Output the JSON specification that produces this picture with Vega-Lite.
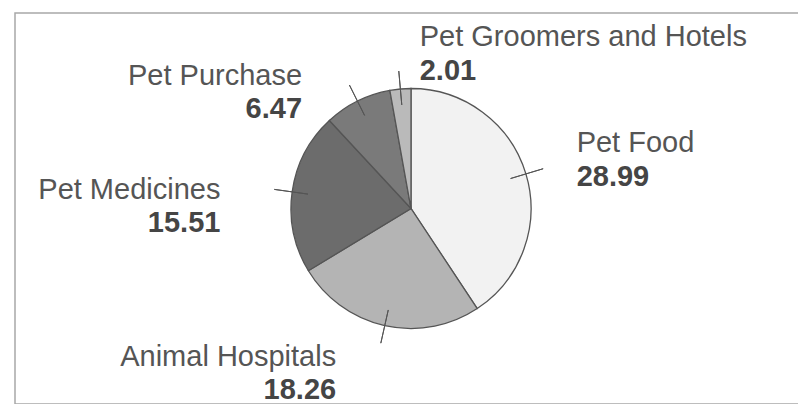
{
  "$schema": "https://vega.github.io/schema/vega-lite/v6.json",
  "width": 792,
  "height": 391,
  "autosize": {"type": "none"},
  "padding": {"left": 15, "top": 13, "right": 0, "bottom": 0},
  "background": "white",
  "view": {"stroke": "#a8a8a8", "strokeWidth": 1.5, "fill": "white"},
  "config": {"view": {"stroke": "#a8a8a8", "strokeWidth": 1.5}},
  "data": {
    "values": [
      {"category": "Pet Food", "value": 28.99},
      {"category": "Animal Hospitals", "value": 18.26},
      {"category": "Pet Medicines", "value": 15.51},
      {"category": "Pet Purchase", "value": 6.47},
      {"category": "Pet Groomers and Hotels", "value": 2.01}
    ]
  },
  "encoding": {
    "theta": {"field": "value", "type": "quantitative", "stack": true},
    "order": {"field": "value", "type": "quantitative", "sort": "descending"}
  },
  "layer": [
    {
      "mark": {"type": "arc", "radius": 120, "stroke": "#555555", "strokeWidth": 1.3},
      "encoding": {
        "color": {
          "field": "category",
          "type": "nominal",
          "scale": {
            "domain": ["Pet Food", "Animal Hospitals", "Pet Medicines", "Pet Purchase", "Pet Groomers and Hotels"],
            "range": ["#f2f2f2", "#b4b4b4", "#6c6c6c", "#7a7a7a", "#bababa"]
          },
          "legend": null
        }
      }
    },
    {
      "mark": {"type": "arc", "radius": 138, "radius2": 104, "padAngle": 3.14159, "fill": "transparent", "stroke": "#555555", "strokeWidth": 1}
    },
    {
      "mark": {"type": "text", "radius": 150, "align": "left", "baseline": "middle", "dx": 22, "dy": -22, "font": "Liberation Sans", "fontSize": 29, "color": "#555555"},
      "encoding": {
        "text": {"condition": {"test": "datum.category === 'Pet Food' || datum.category === 'Pet Groomers and Hotels'", "field": "category"}, "value": ""}
      }
    },
    {
      "mark": {"type": "text", "radius": 150, "align": "left", "baseline": "middle", "dx": 22, "dy": 12, "font": "Liberation Sans", "fontSize": 29, "fontWeight": "bold", "color": "#454545"},
      "encoding": {
        "text": {"condition": {"test": "datum.category === 'Pet Food' || datum.category === 'Pet Groomers and Hotels'", "field": "value", "format": ".2f"}, "value": ""}
      }
    },
    {
      "mark": {"type": "text", "radius": 150, "align": "right", "baseline": "middle", "dx": -42, "dy": 2, "font": "Liberation Sans", "fontSize": 29, "color": "#555555"},
      "encoding": {
        "text": {"condition": {"test": "datum.category !== 'Pet Food' && datum.category !== 'Pet Groomers and Hotels'", "field": "category"}, "value": ""}
      }
    },
    {
      "mark": {"type": "text", "radius": 150, "align": "right", "baseline": "middle", "dx": -42, "dy": 35, "font": "Liberation Sans", "fontSize": 29, "fontWeight": "bold", "color": "#454545"},
      "encoding": {
        "text": {"condition": {"test": "datum.category !== 'Pet Food' && datum.category !== 'Pet Groomers and Hotels'", "field": "value", "format": ".2f"}, "value": ""}
      }
    }
  ]
}
